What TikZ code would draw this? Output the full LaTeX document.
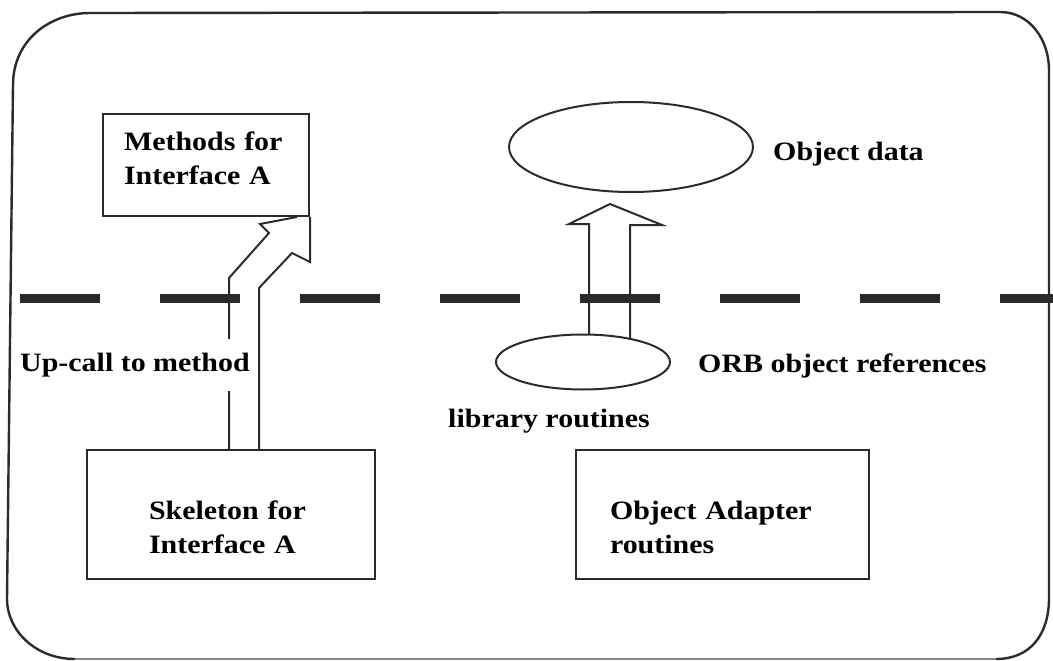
\documentclass[tikz,border=0pt]{standalone}
\usepackage{fontspec}
\setmainfont{Liberation Serif}[FakeStretch=1.13]
\usetikzlibrary{shapes.geometric}
\definecolor{ink}{HTML}{2B2B2B}
\tikzset{
  every node/.style={font=\fontsize{26.5}{34}\selectfont\bfseries, text=black},
  box/.style={draw=ink, line width=2pt, rectangle, align=left, anchor=north west, inner ysep=0pt},
  blob/.style={draw=ink, line width=2pt, ellipse, inner sep=0pt},
  outline/.style={draw=ink, line width=2pt, line join=miter},
  lbl/.style={anchor=base west, inner sep=0pt},
  frame/.style={draw=ink, line width=2.4pt},
  divider/.style={draw=ink, line width=9pt, dash pattern=on 80pt off 60pt},
}
% struts that move a two-line box text down or up
\newcommand{\dropstrut}{\rule{0pt}{45pt}}
\newcommand{\liftstrut}{\rule[-14pt]{0pt}{14pt}}
\begin{document}
\begin{tikzpicture}[x=1pt, y=-1pt]
\useasboundingbox (0,0) rectangle (1053,661);

% rounded outer frame
\draw[frame] (13,85) .. controls (13,40) and (50,13) .. (90,13)
  -- (1000,12) .. controls (1030,12) and (1049,40) .. (1049,70)
  -- (1049,598) .. controls (1049,635) and (1030,659) .. (996,659);
\draw[draw=black!45, line width=2pt] (996,659) -- (75,659);
\draw[frame] (75,659) .. controls (35,659) and (7,630) .. (7,599) -- (13,85);

% dashed separation line
\path[divider] (20,298) -- (1053,298);

% boxes
\node[box, minimum width=206pt, minimum height=102pt, inner xsep=21pt, text width=164pt]
  (methods) at (102,113) {Methods for\\Interface A\liftstrut};
\node[box, minimum width=288pt, minimum height=129pt, inner xsep=62pt, text width=164pt]
  (skel) at (86,449) {\dropstrut Skeleton for\\Interface A};
\node[box, minimum width=293pt, minimum height=129pt, inner xsep=34pt, text width=225pt]
  (adapter) at (575,449) {\dropstrut Object Adapter\\routines};

% ellipses
\node[blob, minimum width=244pt, minimum height=90pt] (data) at (631,147) {};
\node[blob, minimum width=174pt, minimum height=55pt] (orb) at (583,362) {};

% up-call block arrow from the skeleton to the methods
\draw[outline] (229,0 |- skel.north) -- (229,278) -- (269,233) -- (260,224) -- (297,0 |- methods.south);
\draw[outline] (259,0 |- skel.north) -- (259,288) -- (292,253) -- (310,262) -- (310,0 |- methods.south);

% block arrow from the object references up to the object data
\draw[outline] (589,334.6) -- (589,224) -- (569,224) -- (610,204) -- (662,225) -- (630,225) -- (630,338.9);

% labels
\node[anchor=west, fill=white, inner xsep=2pt, inner ysep=14pt] (upcall) at (18,365) {Up-call to method};
\node[lbl] (datalbl) at (773,160) {Object data};
\node[lbl] (orblbl) at (698,372) {ORB object references};
\node[lbl] (libl) at (448,427) {library routines};
\end{tikzpicture}
\end{document}
